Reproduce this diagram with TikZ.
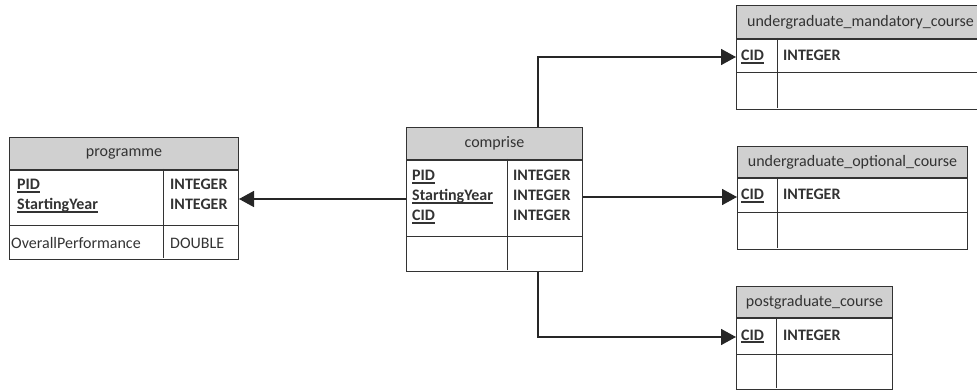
\documentclass[tikz,border=0pt]{standalone}
\usepackage{fontspec}
\setmainfont{Carlito}
\usetikzlibrary{arrows.meta}
\definecolor{hdrgray}{HTML}{D0D0D0}
\definecolor{ink}{HTML}{333333}
\newcommand\ukey[1]{\textbf{\setbox0\hbox{#1}\rlap{\rule[-2.6pt]{\wd0}{1.2pt}}\box0}}
\tikzset{>={Triangle[length=15pt,width=16pt]},every node/.style={font=\fontsize{16}{20}\selectfont,text=ink,inner sep=0pt},
hdr/.style={draw=ink,fill=hdrgray,anchor=north west,line width=1pt},cell/.style={draw=ink,anchor=north west,line width=1pt},
grid/.style={draw=ink,line width=1pt},link/.style={line width=1.6pt,->,draw=black!85},txt/.style={anchor=base west}}

\begin{document}
\begin{tikzpicture}[x=1pt,y=-1pt]
\useasboundingbox (0,0) rectangle (977,390);
\node[hdr,minimum width=229,minimum height=32] (prog) at (9,137) {programme};
\node[cell,minimum width=229,minimum height=89] (progbody) at (prog.south west) {};
\draw[grid] (163,169)--(163,258);\draw[grid] (9,226)--(238,226);
\foreach \k [count=\i] in {PID,StartingYear}{\node[txt] (pk\i) at (17,170+20*\i) {\ukey{\k}};\node[txt] (pt\i) at (170,170+20*\i) {\textbf{INTEGER}};}
\node[txt] (pattr) at (11,248) {OverallPerformance};\node[txt] (ptype) at (170,248) {DOUBLE};
\node[hdr,minimum width=176,minimum height=32] (com) at (406,127) {comprise};
\node[cell,minimum width=176,minimum height=111] (combody) at (com.south west) {};
\draw[grid] (507,159)--(507,270);\draw[grid] (406,236)--(582,236);
\foreach \k [count=\i] in {PID,StartingYear,CID}{\node[txt] (ck\i) at (412,161+20*\i) {\ukey{\k}};\node[txt] (ct\i) at (513,161+20*\i) {\textbf{INTEGER}};}
\node[hdr,minimum width=248,minimum height=33] (mand) at (736,5) {undergraduate\_mandatory\_course};
\node[cell,minimum width=248,minimum height=70] (mandbody) at (mand.south west) {};
\draw[grid] (777,38)--(777,108);\draw[grid] (736,73)--(984,73);
\node[txt] (mk) at (741,61) {\ukey{CID}};\node[txt] (mt) at (783,61) {\textbf{INTEGER}};
\node[hdr,minimum width=230,minimum height=31] (opt) at (737,146) {undergraduate\_optional\_course};
\node[cell,minimum width=230,minimum height=71] (optbody) at (opt.south west) {};
\draw[grid] (777,177)--(777,248);\draw[grid] (737,213)--(967,213);
\node[txt] (ok) at (741,200) {\ukey{CID}};\node[txt] (ot) at (783,200) {\textbf{INTEGER}};
\node[hdr,minimum width=156,minimum height=31] (post) at (736,286) {postgraduate\_course};
\node[cell,minimum width=156,minimum height=71] (postbody) at (post.south west) {};
\draw[grid] (776,317)--(776,388);\draw[grid] (736,354)--(892,354);
\node[txt] (sk) at (741,340) {\ukey{CID}};\node[txt] (st) at (783,340) {\textbf{INTEGER}};
\coordinate (ya) at (0,199);\coordinate (yb) at (0,197);\coordinate (yc) at (0,57);\coordinate (yd) at (0,337);\coordinate (xc) at (538,0);
\draw[link] (combody.west|-ya)--(progbody.east|-ya);
\draw[link] (combody.east|-yb)--(optbody.west|-yb);
\draw[link] (com.north-|xc) |- (mandbody.west|-yc);
\draw[link] (combody.south-|xc) |- (postbody.west|-yd);
\end{tikzpicture}
\end{document}
